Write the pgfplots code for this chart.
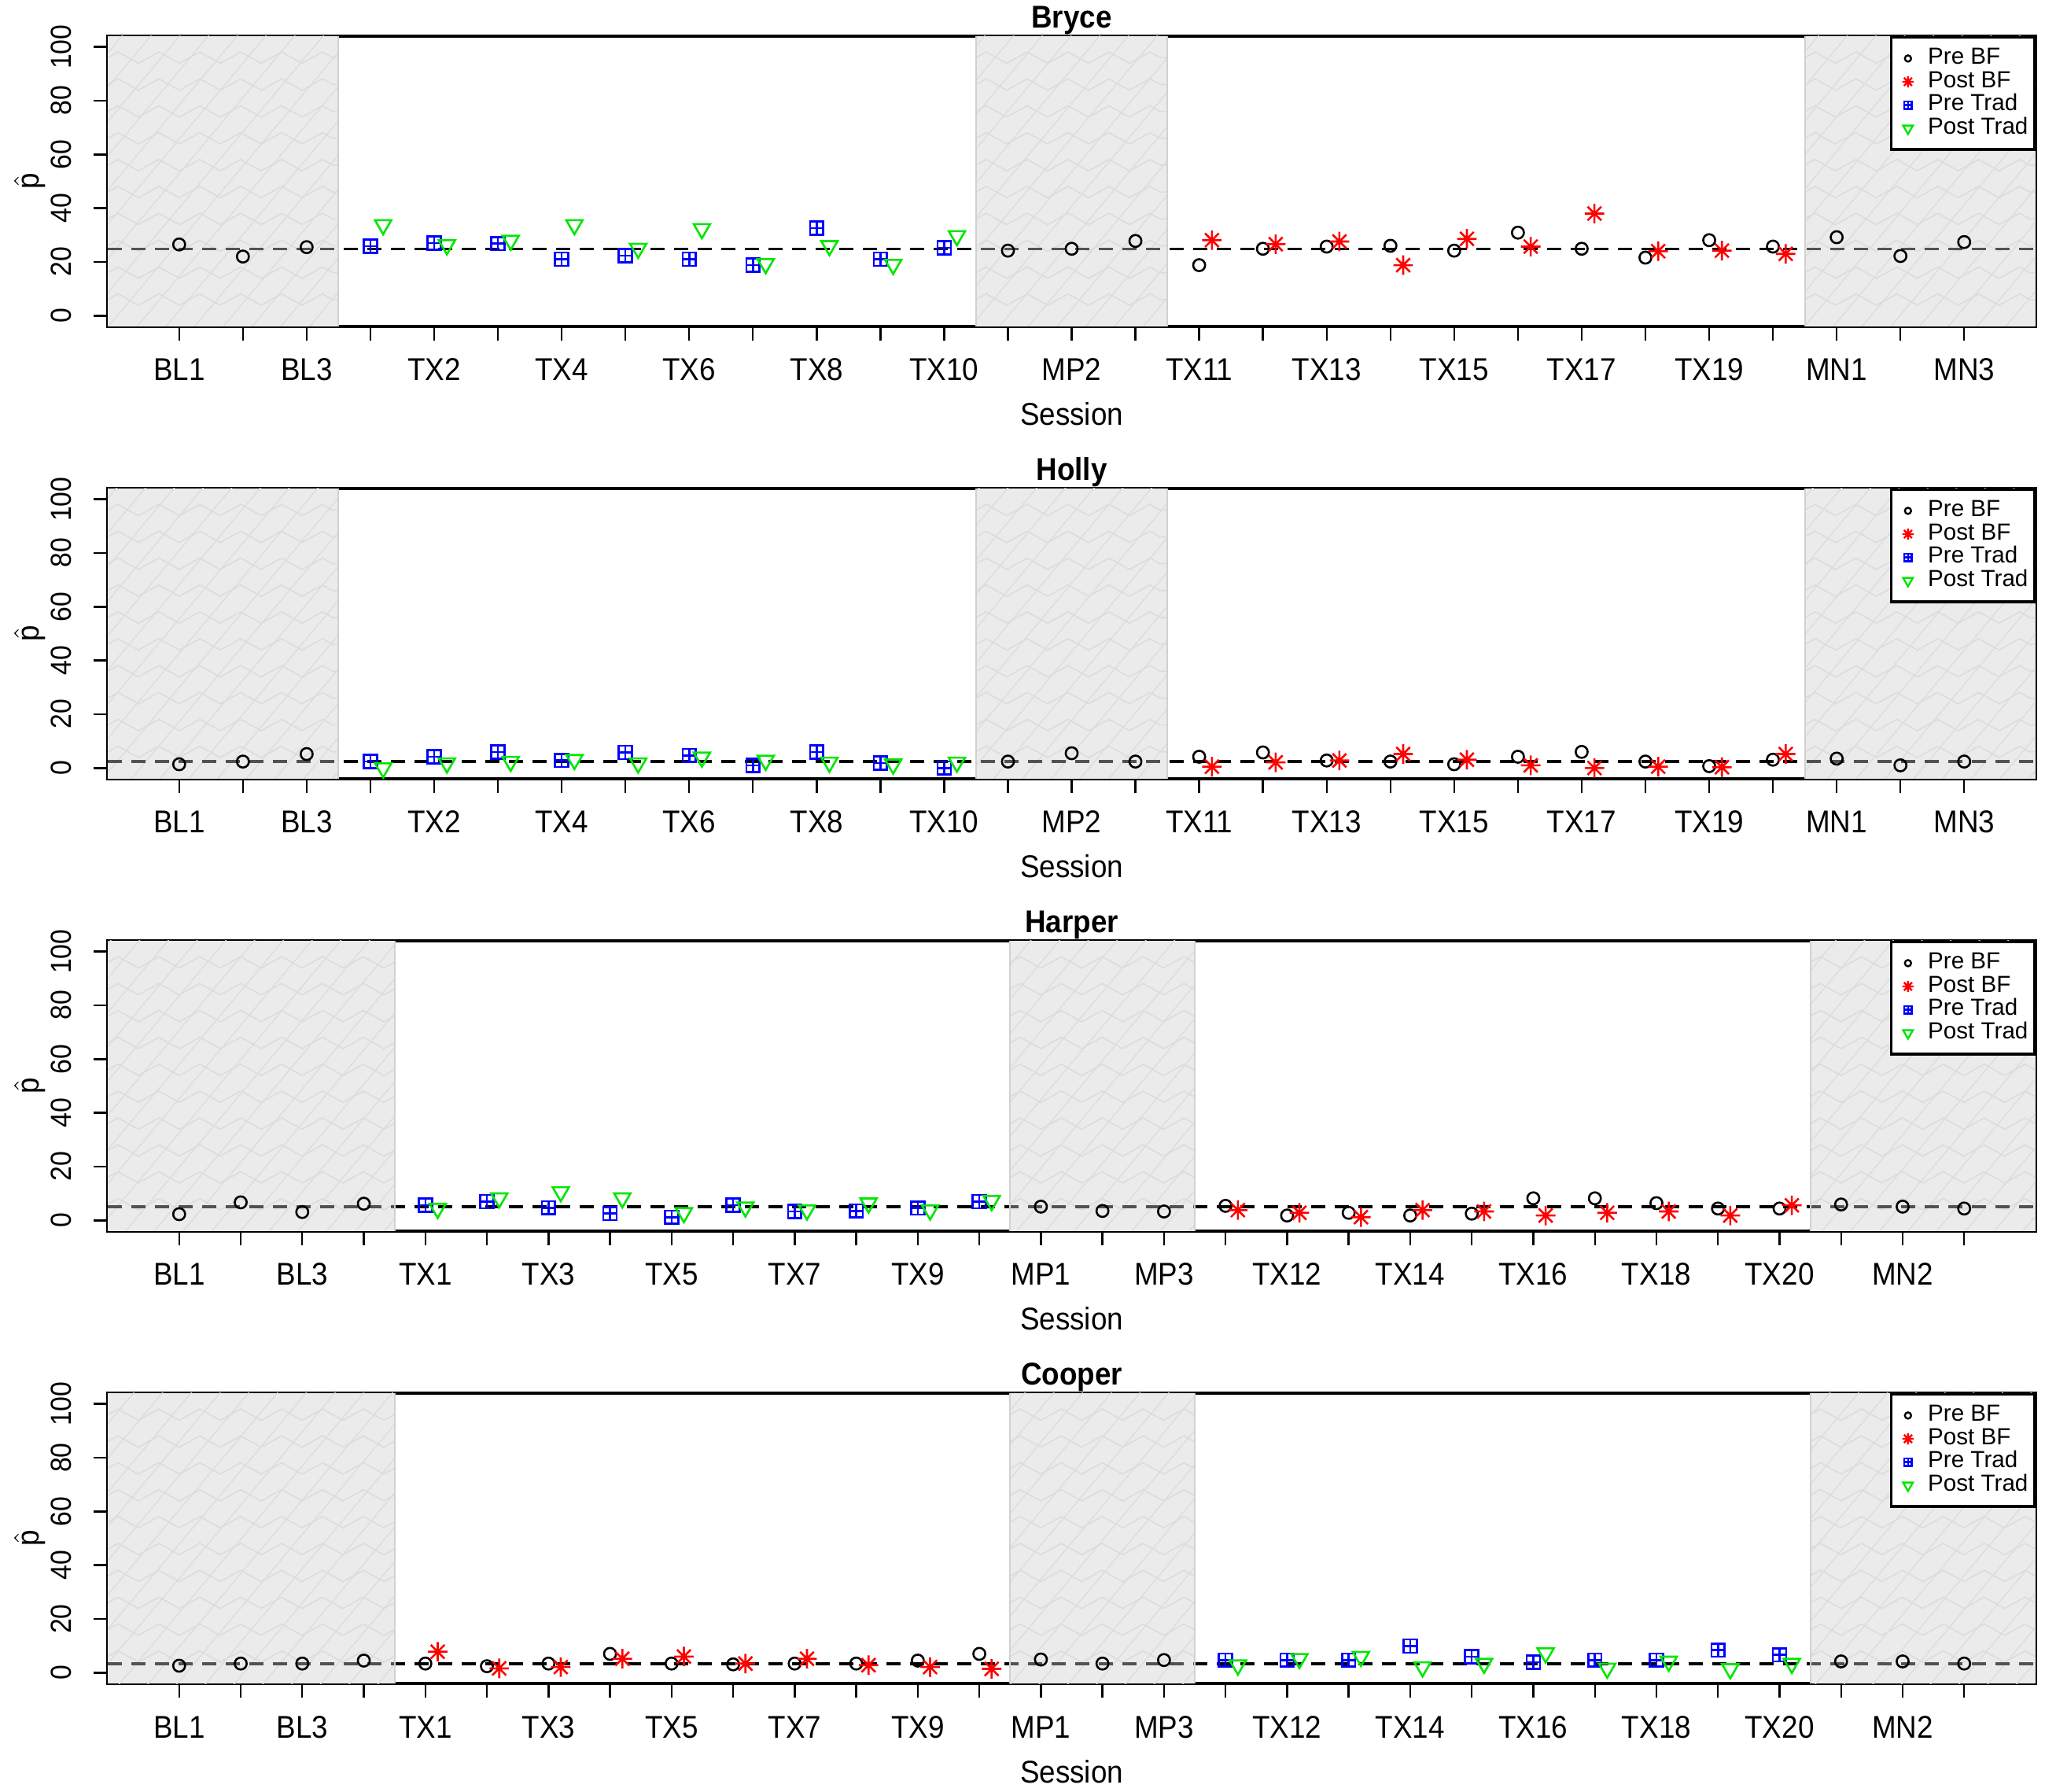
\documentclass[border=0pt]{standalone}
\usepackage{fontspec}
\setmainfont{Liberation Sans}[FakeStretch=0.92]
\newfontfamily\legfam{Liberation Sans}
\usepackage{pgfplots}
\pgfplotsset{compat=1.18}
\usetikzlibrary{patterns.meta,decorations.pathmorphing}

\definecolor{bgg}{HTML}{EBEBEB}
\definecolor{rgreen}{HTML}{00E600}
\definecolor{rblue}{HTML}{0000FF}
\definecolor{rred}{HTML}{FF0000}

\newcommand\tickfont{\fontsize{10}{12}\selectfont}
\newcommand\ytickfont{\fontsize{9.2}{11}\selectfont}
\newcommand\labfont{\fontsize{10}{12}\selectfont}
\newcommand\titfont{\bfseries\fontsize{10}{12}\selectfont}
\newcommand\legfont{\legfam\fontsize{7.4}{8}\selectfont}

\pgfdeclareplotmark{rstar}{%
  \pgfpathmoveto{\pgfqpoint{-\pgfplotmarksize}{0pt}}\pgfpathlineto{\pgfqpoint{\pgfplotmarksize}{0pt}}%
  \pgfpathmoveto{\pgfqpoint{0pt}{-\pgfplotmarksize}}\pgfpathlineto{\pgfqpoint{0pt}{\pgfplotmarksize}}%
  \pgfpathmoveto{\pgfqpoint{-0.7071\pgfplotmarksize}{-0.7071\pgfplotmarksize}}\pgfpathlineto{\pgfqpoint{0.7071\pgfplotmarksize}{0.7071\pgfplotmarksize}}%
  \pgfpathmoveto{\pgfqpoint{-0.7071\pgfplotmarksize}{0.7071\pgfplotmarksize}}\pgfpathlineto{\pgfqpoint{0.7071\pgfplotmarksize}{-0.7071\pgfplotmarksize}}%
  \pgfusepathqstroke}
\pgfdeclareplotmark{sqplus}{%
  \pgfpathrectangle{\pgfqpoint{-\pgfplotmarksize}{-\pgfplotmarksize}}{\pgfqpoint{2\pgfplotmarksize}{2\pgfplotmarksize}}%
  \pgfpathmoveto{\pgfqpoint{-\pgfplotmarksize}{0pt}}\pgfpathlineto{\pgfqpoint{\pgfplotmarksize}{0pt}}%
  \pgfpathmoveto{\pgfqpoint{0pt}{-\pgfplotmarksize}}\pgfpathlineto{\pgfqpoint{0pt}{\pgfplotmarksize}}%
  \pgfusepathqstroke}

\newcommand\grayreg[2]{%
  \fill[bgg] (axis cs:#1,-4) rectangle (axis cs:#2,104);
  \path[pattern={Lines[angle=50,distance=7pt,line width=0.35pt]}, pattern color=black!16] (axis cs:#1,-4) rectangle (axis cs:#2,104);
  \pgfplotsinvokeforeach{6,16,...,96}{\draw[black!17,line width=0.4pt,decorate,decoration={zigzag,amplitude=1.8pt,segment length=13pt}] (axis cs:#1,##1) -- (axis cs:#2,##1);}
}
\newcommand\grayover[2]{%
  \fill[bgg,opacity=0.35] (axis cs:#1,-4) rectangle (axis cs:#2,104);
}
\newcommand\gedge[1]{\draw[black!18,line width=0.5pt] (axis cs:#1,-4) -- (axis cs:#1,104);}

\pgfplotsset{
  preBF/.style={only marks, mark=o, mark size=1.9pt, black, mark options={line width=0.65pt}},
  postBF/.style={only marks, mark=rstar, mark size=3.1pt, rred, mark options={line width=0.65pt}},
  preTrad/.style={only marks, mark=sqplus, mark size=2.1pt, rblue, mark options={line width=0.65pt}},
  postTrad/.style={only marks, mark=triangle, mark size=3.0pt, rgreen, mark options={rotate=180, line width=0.65pt}},
  panel/.style={
    scale only axis, width=612.75pt, height=92.25pt,
    anchor=north west,
    ymin=-4, ymax=104, ytick={0,20,...,100},
    tick align=outside, xtick pos=left, ytick pos=left,
    major tick length=4.6pt,
    tick style={line width=0.6pt, black},
    axis line style={line width=0.8pt},
    xticklabel style={font=\tickfont, anchor=base},
    yticklabel style={font=\ytickfont, rotate=90, anchor=base},
    xticklabel shift=12.65pt, yticklabel shift=7pt,
    xlabel={Session},
    xlabel style={font=\labfont, at={(axis description cs:0.5,0)}, anchor=base, yshift=-31.5pt},
    ylabel={$\hat{\mbox{p}}$},
    ylabel style={font=\labfont, at={(axis description cs:0,0.5)}, anchor=base, yshift=21.75pt},
    title style={font=\titfont, at={(axis description cs:0.5,1)}, anchor=base, yshift=-3.5pt},
    /pgf/number format/assume math mode=true,
    legend cell align=left,
    legend style={at={(rel axis cs:1,1)}, anchor=north east, draw=black, line width=0.8pt, fill=white,
      inner xsep=1.5pt, inner ysep=3pt, row sep=0pt, font=\legfont,
      /tikz/every odd column/.append style={column sep=4.05pt},
      nodes={inner xsep=0.5pt, inner ysep=0pt, text height=5.5pt, text depth=1.9pt}},
  },
  p29/.style={xmin=-0.12, xmax=30.12, xtick={1,...,29},
    xticklabels={BL1,,BL3,,TX2,,TX4,,TX6,,TX8,,TX10,,MP2,,TX11,,TX13,,TX15,,TX17,,TX19,,MN1,,MN3}},
  p30/.style={xmin=-0.16, xmax=31.16, xtick={1,...,30},
    xticklabels={BL1,,BL3,,TX1,,TX3,,TX5,,TX7,,TX9,,MP1,,MP3,,TX12,,TX14,,TX16,,TX18,,TX20,,MN2,}},
  legimg/.style={legend image code/.code={\path[draw=none,fill=none] (-3.85pt,0pt) -- (0pt,0pt); \draw[##1] plot coordinates {(0pt,0pt)};}},
}

\newcommand\legs{%
  \addlegendimage{only marks, mark=o, mark size=1pt, black, mark options={line width=0.6pt}, legimg}\addlegendentry{Pre BF}
  \addlegendimage{only marks, mark=rstar, mark size=1.8pt, rred, mark options={line width=0.6pt}, legimg}\addlegendentry{Post BF}
  \addlegendimage{only marks, mark=sqplus, mark size=1.2pt, rblue, mark options={line width=0.6pt}, legimg}\addlegendentry{Pre Trad}
  \addlegendimage{only marks, mark=triangle, mark size=1.8pt, rgreen, mark options={rotate=180, line width=0.6pt}, legimg}\addlegendentry{Post Trad}
}

\begin{document}
\begin{tikzpicture}
\useasboundingbox (0,0) rectangle (650pt,569.5pt);

% ---------------- Bryce ----------------
\begin{axis}[panel, p29, at={(34.25pt,558pt)}, title={Bryce}]
\legs
\grayreg{-0.12}{3.5}\grayreg{13.5}{16.5}\grayreg{26.5}{30.12}
\addplot[black, line width=0.9pt, dash pattern=on 4.5pt off 3pt, forget plot] coordinates {(-0.12,24.8) (30.12,24.8)};
\addplot[preBF, forget plot] coordinates {(1,26.5)(2,22)(3,25.5)(14,24.2)(15,24.9)(16,27.8)(17,18.8)(18,24.9)(19,25.7)(20,26)(21,24.2)(22,30.9)(23,24.9)(24,21.6)(25,28.1)(26,25.7)(27,29.2)(28,22.2)(29,27.4)};
\addplot[postBF, forget plot] coordinates {(17.2,28.1)(18.2,26.6)(19.2,27.6)(20.2,18.8)(21.2,28.6)(22.2,25.7)(23.2,38)(24.2,24)(25.2,24.2)(26.2,23)};
\addplot[preTrad, forget plot] coordinates {(4,25.8)(5,27)(6,26.8)(7,21)(8,22.3)(9,21)(10,18.8)(11,32.6)(12,21)(13,25.3)};
\addplot[postTrad, forget plot] coordinates {(4.2,33.8)(5.2,26.3)(6.2,28)(7.2,33.8)(8.2,25)(9.2,32.3)(10.2,19.3)(11.2,26)(12.2,19)(13.2,29.7)};
\grayover{-0.12}{3.5}\grayover{13.5}{16.5}\grayover{26.5}{30.12}
\gedge{3.5}\gedge{13.5}\gedge{16.5}\gedge{26.5}
\end{axis}

% ---------------- Holly ----------------
\begin{axis}[panel, p29, at={(34.25pt,414.25pt)}, title={Holly}]
\legs
\grayreg{-0.12}{3.5}\grayreg{13.5}{16.5}\grayreg{26.5}{30.12}
\addplot[black, line width=0.9pt, dash pattern=on 4.5pt off 3pt, forget plot] coordinates {(-0.12,2.4) (30.12,2.4)};
\addplot[preBF, forget plot] coordinates {(1,1.4)(2,2.4)(3,5.2)(14,2.4)(15,5.5)(16,2.4)(17,4.2)(18,5.8)(19,2.8)(20,2.4)(21,1.4)(22,4.2)(23,6)(24,2.4)(25,0.7)(26,3.1)(27,3.5)(28,1)(29,2.4)};
\addplot[postBF, forget plot] coordinates {(17.2,0.5)(18.2,2.1)(19.2,2.8)(20.2,5.2)(21.2,3.1)(22.2,1)(23.2,0)(24.2,0.5)(25.2,0.3)(26.2,5.2)};
\addplot[preTrad, forget plot] coordinates {(4,2.4)(5,4.2)(6,6)(7,2.8)(8,5.8)(9,4.7)(10,1)(11,6)(12,1.8)(13,0)};
\addplot[postTrad, forget plot] coordinates {(4.2,0)(5.2,1.8)(6.2,2.4)(7.2,3.1)(8.2,1.8)(9.2,4)(10.2,2.8)(11.2,2.1)(12.2,1.4)(13.2,2.1)};
\grayover{-0.12}{3.5}\grayover{13.5}{16.5}\grayover{26.5}{30.12}
\gedge{3.5}\gedge{13.5}\gedge{16.5}\gedge{26.5}
\end{axis}

% ---------------- Harper ----------------
\begin{axis}[panel, p30, at={(34.25pt,270.5pt)}, title={Harper}]
\legs
\grayreg{-0.16}{4.5}\grayreg{14.5}{17.5}\grayreg{27.5}{31.16}
\addplot[black, line width=0.9pt, dash pattern=on 4.5pt off 3pt, forget plot] coordinates {(-0.16,5.0) (31.16,5.0)};
\addplot[preBF, forget plot] coordinates {(1,2.3)(2,6.7)(3,3.1)(4,6.2)(15,5.1)(16,3.5)(17,3.3)(18,5.4)(19,1.8)(20,2.8)(21,1.8)(22,2.5)(23,8.2)(24,8.2)(25,6.4)(26,4.4)(27,4.4)(28,5.9)(29,5.1)(30,4.4)};
\addplot[postBF, forget plot] coordinates {(18.2,3.8)(19.2,2.8)(20.2,1.2)(21.2,3.8)(22.2,3.3)(23.2,1.8)(24.2,2.8)(25.2,3.3)(26.2,1.8)(27.2,5.6)};
\addplot[preTrad, forget plot] coordinates {(5,5.6)(6,7)(7,4.7)(8,2.5)(9,1.2)(10,5.6)(11,3.3)(12,3.5)(13,4.6)(14,7)};
\addplot[postTrad, forget plot] coordinates {(5.2,4.4)(6.2,8.3)(7.2,10.6)(8.2,8.3)(9.2,2.8)(10.2,4.9)(11.2,3.8)(12.2,6.4)(13.2,3.8)(14.2,7.3)};
\grayover{-0.16}{4.5}\grayover{14.5}{17.5}\grayover{27.5}{31.16}
\gedge{4.5}\gedge{14.5}\gedge{17.5}\gedge{27.5}
\end{axis}

% ---------------- Cooper ----------------
\begin{axis}[panel, p30, at={(34.25pt,126.75pt)}, title={Cooper}]
\legs
\grayreg{-0.16}{4.5}\grayreg{14.5}{17.5}\grayreg{27.5}{31.16}
\addplot[black, line width=0.9pt, dash pattern=on 4.5pt off 3pt, forget plot] coordinates {(-0.16,3.4) (31.16,3.4)};
\addplot[preBF, forget plot] coordinates {(1,2.6)(2,3.4)(3,3.4)(4,4.5)(5,3.4)(6,2.4)(7,3.4)(8,7)(9,3.4)(10,3.1)(11,3.4)(12,3.4)(13,4.5)(14,7)(15,4.9)(16,3.4)(17,4.7)(28,4.2)(29,4.2)(30,3.4)};
\addplot[postBF, forget plot] coordinates {(5.2,7.8)(6.2,1.6)(7.2,2.1)(8.2,5.2)(9.2,6)(10.2,3.4)(11.2,5.2)(12.2,2.8)(13.2,2.1)(14.2,1.4)};
\addplot[preTrad, forget plot] coordinates {(18,4.7)(19,4.7)(20,4.7)(21,9.9)(22,6)(23,3.9)(24,4.7)(25,4.7)(26,8.4)(27,6.6)};
\addplot[postTrad, forget plot] coordinates {(18.2,2.8)(19.2,5.2)(20.2,6)(21.2,2.1)(22.2,3.4)(23.2,7.3)(24.2,1.6)(25.2,4.2)(26.2,1.4)(27.2,3.4)};
\grayover{-0.16}{4.5}\grayover{14.5}{17.5}\grayover{27.5}{31.16}
\gedge{4.5}\gedge{14.5}\gedge{17.5}\gedge{27.5}
\end{axis}
\end{tikzpicture}
\end{document}
